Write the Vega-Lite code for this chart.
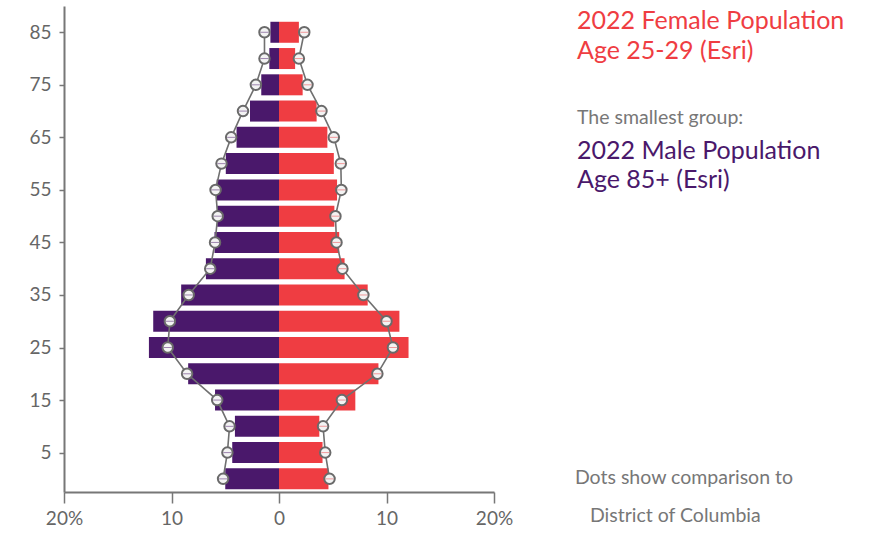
{
  "$schema": "https://vega.github.io/schema/vega-lite/v6.json",
  "padding": {"left": 28, "top": 6, "right": 0, "bottom": 0},
  "autosize": {"type": "pad"},
  "background": "white",
  "config": {"font": "Lato", "view": {"stroke": null}},
  "spacing": 83,
  "bounds": "flush",
  "hconcat": [
    {
      "width": 430,
      "height": 486,
      "data": {"values": [
        {"age": 0, "sex": "Male", "pct": -5.0, "dc": -5.2},
        {"age": 5, "sex": "Male", "pct": -4.35, "dc": -4.8},
        {"age": 10, "sex": "Male", "pct": -4.1, "dc": -4.6},
        {"age": 15, "sex": "Male", "pct": -5.95, "dc": -5.75},
        {"age": 20, "sex": "Male", "pct": -8.45, "dc": -8.55},
        {"age": 25, "sex": "Male", "pct": -12.1, "dc": -10.35},
        {"age": 30, "sex": "Male", "pct": -11.7, "dc": -10.15},
        {"age": 35, "sex": "Male", "pct": -9.1, "dc": -8.4},
        {"age": 40, "sex": "Male", "pct": -6.8, "dc": -6.4},
        {"age": 45, "sex": "Male", "pct": -6.0, "dc": -5.95},
        {"age": 50, "sex": "Male", "pct": -5.75, "dc": -5.7},
        {"age": 55, "sex": "Male", "pct": -5.8, "dc": -5.9},
        {"age": 60, "sex": "Male", "pct": -4.95, "dc": -5.35},
        {"age": 65, "sex": "Male", "pct": -3.95, "dc": -4.45},
        {"age": 70, "sex": "Male", "pct": -2.7, "dc": -3.35},
        {"age": 75, "sex": "Male", "pct": -1.65, "dc": -2.15},
        {"age": 80, "sex": "Male", "pct": -0.9, "dc": -1.35},
        {"age": 85, "sex": "Male", "pct": -0.8, "dc": -1.35},
        {"age": 0, "sex": "Female", "pct": 4.6, "dc": 4.7},
        {"age": 5, "sex": "Female", "pct": 4.05, "dc": 4.3},
        {"age": 10, "sex": "Female", "pct": 3.75, "dc": 4.1},
        {"age": 15, "sex": "Female", "pct": 7.1, "dc": 5.85},
        {"age": 20, "sex": "Female", "pct": 9.25, "dc": 9.15},
        {"age": 25, "sex": "Female", "pct": 12.05, "dc": 10.6},
        {"age": 30, "sex": "Female", "pct": 11.2, "dc": 10.0},
        {"age": 35, "sex": "Female", "pct": 8.25, "dc": 7.85},
        {"age": 40, "sex": "Female", "pct": 6.1, "dc": 5.9},
        {"age": 45, "sex": "Female", "pct": 5.6, "dc": 5.35},
        {"age": 50, "sex": "Female", "pct": 5.15, "dc": 5.25},
        {"age": 55, "sex": "Female", "pct": 5.4, "dc": 5.8},
        {"age": 60, "sex": "Female", "pct": 5.1, "dc": 5.75},
        {"age": 65, "sex": "Female", "pct": 4.5, "dc": 5.1},
        {"age": 70, "sex": "Female", "pct": 3.5, "dc": 3.95},
        {"age": 75, "sex": "Female", "pct": 2.2, "dc": 2.65},
        {"age": 80, "sex": "Female", "pct": 1.5, "dc": 1.85},
        {"age": 85, "sex": "Female", "pct": 1.85, "dc": 2.35}
      ]},
      "layer": [
        {
          "mark": {"type": "bar", "orient": "horizontal", "height": 21},
          "encoding": {
            "x": {"field": "pct", "type": "quantitative", "stack": null, "title": null,
              "scale": {"domain": [-20, 20], "nice": false, "padding": 0},
              "axis": {"values": [-20, -10, 0, 10, 20], "grid": false, "domainColor": "#777", "domainWidth": 2,
                "tickColor": "#777", "tickWidth": 1.5, "tickSize": 11, "labelFontSize": 19, "labelColor": "#666",
                "labelPadding": 6, "labelFont": "Lato", "labelFlush": false,
                "labelExpr": "abs(datum.value) == 20 ? '20%' : format(abs(datum.value), 'd')"}},
            "y": {"field": "age", "type": "quantitative", "title": null,
              "scale": {"domain": [-2.5, 90], "nice": false, "zero": false, "padding": 0},
              "axis": {"values": [5, 15, 25, 35, 45, 55, 65, 75, 85], "grid": false, "domainColor": "#777", "domainWidth": 2,
                "tickColor": "#777", "tickWidth": 1.5, "tickSize": 5, "labelFontSize": 19, "labelColor": "#666",
                "labelPadding": 8, "labelFont": "Lato", "labelFlush": false}},
            "color": {"field": "sex", "type": "nominal",
              "scale": {"domain": ["Male", "Female"], "range": ["#4a186b", "#ef3d42"]}, "legend": null}
          }
        },
        {
          "mark": {"type": "line", "color": "#707070", "strokeWidth": 1.6},
          "encoding": {
            "x": {"field": "dc", "type": "quantitative", "title": null},
            "y": {"field": "age", "type": "quantitative", "title": null},
            "detail": {"field": "sex", "type": "nominal"},
            "order": {"field": "age", "type": "quantitative"}
          }
        },
        {
          "mark": {"type": "circle", "fill": "#f3f3f3", "stroke": "#6a6a6a", "strokeWidth": 2, "size": 110, "opacity": 1},
          "encoding": {
            "x": {"field": "dc", "type": "quantitative", "title": null},
            "y": {"field": "age", "type": "quantitative", "title": null}
          }
        },
        {
          "mark": {"type": "tick", "orient": "horizontal", "size": 8, "thickness": 1, "opacity": 0.5},
          "encoding": {
            "x": {"field": "dc", "type": "quantitative", "title": null},
            "y": {"field": "age", "type": "quantitative", "title": null},
            "color": {"field": "sex", "type": "nominal", "legend": null}
          }
        }
      ]
    },
    {
      "width": 300,
      "height": 534,
      "layer": [
        {
          "data": {"values": [{"lines": "The largest group:"}]},
          "mark": {"type": "text", "align": "left", "baseline": "alphabetic", "fontSize": 19.5, "color": "#777", "clip": true},
          "encoding": {
            "text": {"field": "lines", "type": "nominal"},
            "x": {"datum": 0, "type": "quantitative", "scale": {"domain": [0, 1], "nice": false, "zero": false}, "axis": null},
            "y": {"datum": -1.3, "type": "quantitative", "scale": {"domain": [0, 100], "nice": false, "zero": false, "reverse": true}, "axis": null}
          }
        },
        {
          "data": {"values": [{"lines": ["2022 Female Population", "Age 25-29 (Esri)"]}]},
          "mark": {"type": "text", "align": "left", "baseline": "alphabetic", "fontSize": 25, "color": "#ef3d42", "lineHeight": 29.5},
          "encoding": {
            "text": {"field": "lines", "type": "nominal"},
            "x": {"datum": 0, "type": "quantitative"},
            "y": {"datum": 4.36, "type": "quantitative"}
          }
        },
        {
          "data": {"values": [{"lines": "The smallest group:"}]},
          "mark": {"type": "text", "align": "left", "baseline": "alphabetic", "fontSize": 19.5, "color": "#777"},
          "encoding": {
            "text": {"field": "lines", "type": "nominal"},
            "x": {"datum": 0, "type": "quantitative"},
            "y": {"datum": 22.15, "type": "quantitative"}
          }
        },
        {
          "data": {"values": [{"lines": ["2022 Male Population", "Age 85+ (Esri)"]}]},
          "mark": {"type": "text", "align": "left", "baseline": "alphabetic", "fontSize": 25, "color": "#4a186b", "lineHeight": 28.5},
          "encoding": {
            "text": {"field": "lines", "type": "nominal"},
            "x": {"datum": 0, "type": "quantitative"},
            "y": {"datum": 28.7, "type": "quantitative"}
          }
        },
        {
          "data": {"values": [{"lines": "Dots show comparison to"}]},
          "mark": {"type": "text", "align": "left", "baseline": "alphabetic", "fontSize": 19.5, "color": "#777"},
          "encoding": {
            "text": {"field": "lines", "type": "nominal"},
            "x": {"datum": -0.007, "type": "quantitative"},
            "y": {"datum": 89.5, "type": "quantitative"}
          }
        },
        {
          "data": {"values": [{"lines": "District of Columbia"}]},
          "mark": {"type": "text", "align": "left", "baseline": "alphabetic", "fontSize": 19.5, "color": "#777"},
          "encoding": {
            "text": {"field": "lines", "type": "nominal"},
            "x": {"datum": 0.043, "type": "quantitative"},
            "y": {"datum": 96.6, "type": "quantitative"}
          }
        }
      ]
    }
  ]
}
